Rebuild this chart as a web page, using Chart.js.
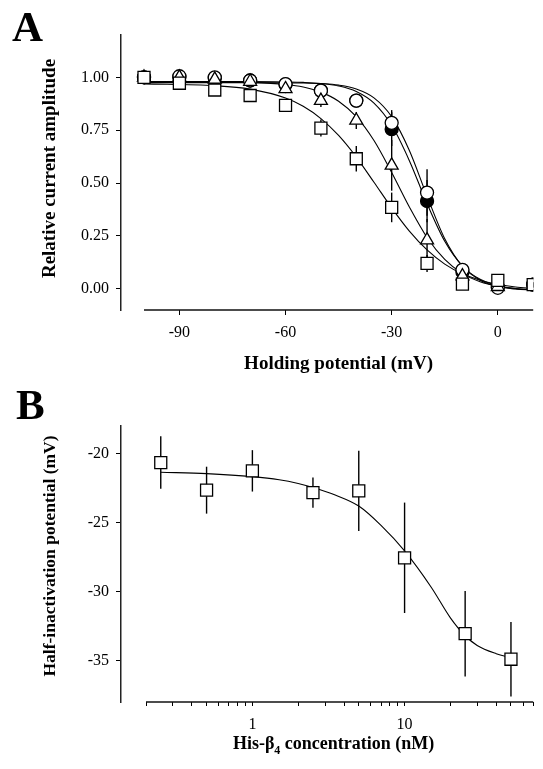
<!DOCTYPE html>
<html><head><meta charset="utf-8">
<script src="https://cdn.jsdelivr.net/npm/chart.js@4.4.1/dist/chart.umd.min.js"></script>
<style>
html,body{margin:0;padding:0;background:#fff;}
#wrap{position:relative;width:543px;height:769px;overflow:hidden;background:#fff;}
.panel{position:absolute;left:0;width:543px;}
#boxA{top:0;height:385px;}
#boxB{top:385px;height:384px;}
.letter{position:absolute;font-family:'Liberation Serif','Times New Roman',serif;font-weight:bold;font-size:43px;line-height:43px;color:#000;}
</style></head><body>
<div id="wrap">
<div class="panel" id="boxA"><canvas id="chartA" width="543" height="385"></canvas></div>
<div class="panel" id="boxB"><canvas id="chartB" width="543" height="384"></canvas></div>
<div class="letter" style="left:12px;top:5px">A</div>
<div class="letter" style="left:16px;top:383px">B</div>
</div>
<script>
// ---------- Panel A data ----------
const holdingPotential = [-100, -90, -80, -70, -60, -50, -40, -30, -20, -10, 0, 10];
const ampFilledCircle = [1.00, 1.00, 0.995, 0.985, 0.966, 0.937, 0.89, 0.755, 0.415, 0.08, 0.01, 0.02];
const errFilledCircle = [0, 0, 0.01, 0.01, 0.01, 0.02, 0.02, 0.08, 0.10, 0.03, 0.01, 0.01];
const ampOpenCircle   = [1.00, 1.005, 1.00, 0.985, 0.968, 0.937, 0.89, 0.785, 0.455, 0.09, 0.005, 0.02];
const errOpenCircle   = [0, 0.01, 0.01, 0.01, 0.01, 0.02, 0.02, 0.06, 0.11, 0.03, 0.01, 0.01];
const ampTriangle     = [1.00, 1.00, 0.99, 0.98, 0.945, 0.89, 0.796, 0.584, 0.23, 0.06, 0.01, 0.015];
const errTriangle     = [0, 0.01, 0.01, 0.01, 0.02, 0.03, 0.04, 0.12, 0.10, 0.03, 0.01, 0.01];
const ampSquare       = [1.00, 0.972, 0.94, 0.914, 0.867, 0.76, 0.615, 0.385, 0.12, 0.022, 0.04, 0.02];
const errSquare       = [0.01, 0.01, 0.02, 0.02, 0.02, 0.04, 0.06, 0.07, 0.04, 0.02, 0.01, 0.01];

const fitPotential    = [-100, -80, -70, -60, -55, -50, -45, -40, -35, -30, -25, -20, -15, -10, -5, 0, 5, 10];
const fitOpenCircle   = [0.975, 0.975, 0.975, 0.974, 0.973, 0.970, 0.963, 0.945, 0.903, 0.814, 0.654, 0.438, 0.237, 0.107, 0.041, 0.011, -0.001, -0.006];
const fitFilledCircle = [0.98, 0.98, 0.98, 0.978, 0.976, 0.971, 0.959, 0.933, 0.878, 0.773, 0.606, 0.403, 0.225, 0.108, 0.045, 0.015, 0.001, -0.005];
const fitTriangle     = [0.98, 0.979, 0.976, 0.966, 0.954, 0.930, 0.887, 0.814, 0.701, 0.550, 0.387, 0.243, 0.139, 0.072, 0.034, 0.013, 0.002, -0.004];
const fitSquare       = [0.969, 0.960, 0.944, 0.902, 0.863, 0.805, 0.725, 0.623, 0.504, 0.383, 0.273, 0.184, 0.117, 0.071, 0.041, 0.022, 0.009, 0.002];

const xTicksA = [-90, -60, -30, 0];
const yTicksA = [0, 0.25, 0.5, 0.75, 1.0];

// ---------- Panel B data ----------
const concentration   = [0.25, 0.5, 1, 2.5, 5, 10, 25, 50];
const halfInactivation = [-20.65, -22.65, -21.25, -22.83, -22.7, -27.55, -33.05, -34.9];
const errHalfInactivation = [1.9, 1.7, 1.5, 1.1, 2.9, 4.0, 3.1, 2.7];

const fitConcentration = [0.25, 0.5, 1, 1.5, 2, 2.5, 3.5, 5, 7, 10, 15, 20, 25, 30, 40, 50];
const fitHalfInactivation = [-21.35, -21.45, -21.67, -21.9, -22.17, -22.45, -23.0, -23.8, -25.2, -27.05, -29.7, -31.9, -33.2, -33.9, -34.5, -34.8];

const xTicksB = [0.2, 0.3, 0.4, 0.5, 0.6, 0.7, 0.8, 0.9, 1, 2, 3, 4, 5, 6, 7, 8, 9, 10, 20, 30, 40, 50, 60, 70];
const xLabelsB = [1, 10];
const yTicksB = [-35, -30, -25, -20];

// ---------- helpers ----------
function pts(xs, ys) { return xs.map((x, i) => ({ x: x, y: ys[i] })); }
const SERIF = "'Liberation Serif','Times New Roman',serif";

const paperAxes = {
  id: 'paperAxes',
  beforeDatasetsDraw(chart) {
    const ctx = chart.ctx, xs = chart.scales.x, ys = chart.scales.y;
    ctx.save();
    ctx.strokeStyle = '#000';
    ctx.lineWidth = 1.4;
    chart.data.datasets.forEach(ds => {
      if (!ds.errors) return;
      ds.data.forEach((p, i) => {
        const e = ds.errors[i];
        if (!e) return;
        const px = xs.getPixelForValue(p.x);
        ctx.beginPath();
        ctx.moveTo(px, ys.getPixelForValue(p.y + e));
        ctx.lineTo(px, ys.getPixelForValue(p.y - e));
        ctx.stroke();
      });
    });
    ctx.restore();
  },
  afterDraw(chart, args, o) {
    const ctx = chart.ctx, xs = chart.scales.x, ca = chart.chartArea;
    ctx.save();
    const x0 = xs.getPixelForValue(o.xFrom), x1 = xs.getPixelForValue(o.xTo);
    ctx.strokeStyle = '#111';
    ctx.lineWidth = 1.5;
    ctx.beginPath();
    ctx.moveTo(x0, ca.bottom);
    ctx.lineTo(x1, ca.bottom);
    ctx.stroke();
    // x title (rich text with optional subscript)
    ctx.fillStyle = '#000';
    ctx.textBaseline = 'alphabetic';
    ctx.textAlign = 'left';
    const main = 'bold ' + o.titleSize + 'px ' + SERIF, sub = 'bold ' + Math.round(o.titleSize * 0.65) + 'px ' + SERIF;
    let w = 0;
    o.xTitle.forEach(p => { ctx.font = p.sub ? sub : main; w += ctx.measureText(p.t).width; });
    let cx = (x0 + x1) / 2 + (o.xTitleShift || 0) - w / 2;
    const by = ca.bottom + o.xTitleOffset;
    o.xTitle.forEach(p => {
      ctx.font = p.sub ? sub : main;
      ctx.fillText(p.t, cx, by + (p.sub ? 5 : 0));
      cx += ctx.measureText(p.t).width;
    });
    // y title
    ctx.font = 'bold ' + (o.yTitleSize || o.titleSize) + 'px ' + SERIF;
    ctx.textAlign = 'center';
    ctx.textBaseline = 'middle';
    ctx.translate(o.yTitleX, (ca.top + ca.bottom) / 2 + o.yTitleShift);
    ctx.rotate(-Math.PI / 2);
    ctx.fillText(o.yTitle, 0, 0);
    ctx.restore();
  }
};

function markerSet(data, errs, style, radius, fill) {
  return { data: data, errors: errs, pointStyle: style, pointRadius: radius, pointHoverRadius: radius,
           borderColor: '#000', backgroundColor: fill, pointBorderWidth: 1.3, borderWidth: 1.3, showLine: false };
}
function curveSet(data) {
  return { data: data, showLine: true, pointRadius: 0, pointHoverRadius: 0, borderColor: '#000',
           borderWidth: 1.1, fill: false, cubicInterpolationMode: 'monotone' };
}
const tickFont = { family: SERIF, size: 16 };

// ---------- Chart A ----------
new Chart(document.getElementById('chartA'), {
  type: 'scatter',
  data: { datasets: [
    markerSet(pts(holdingPotential, ampSquare), errSquare, 'rect', 8.5, '#fff'),
    markerSet(pts(holdingPotential, ampTriangle), errTriangle, 'triangle', 7.5, '#fff'),
    markerSet(pts(holdingPotential, ampOpenCircle), errOpenCircle, 'circle', 6.5, '#fff'),
    markerSet(pts(holdingPotential, ampFilledCircle), errFilledCircle, 'circle', 6.5, '#000'),
    curveSet(pts(fitPotential, fitSquare)),
    curveSet(pts(fitPotential, fitTriangle)),
    curveSet(pts(fitPotential, fitOpenCircle)),
    curveSet(pts(fitPotential, fitFilledCircle))
  ]},
  options: {
    responsive: false, animation: false, events: [],
    layout: { padding: { left: 0, right: 6, top: 35, bottom: 0 } },
    plugins: { legend: { display: false }, tooltip: { enabled: false },
      paperAxes: { titleSize: 19, xFrom: -100, xTo: 10, xTitle: [{ t: 'Holding potential (mV)' }], xTitleOffset: 59,
                   yTitle: 'Relative current amplitude', yTitleX: 50, yTitleShift: -4 } },
    scales: {
      x: { type: 'linear', min: -106.5, max: 10,
           afterBuildTicks: s => { s.ticks = xTicksA.map(v => ({ value: v })); },
           afterFit: s => { s.height = 75; },
           grid: { display: true, drawOnChartArea: false, drawTicks: true, tickLength: 5, color: '#000', lineWidth: 1 },
           border: { display: false },
           ticks: { font: tickFont, color: '#000', padding: 8, maxRotation: 0, autoSkip: false, callback: v => String(v) } },
      y: { type: 'linear', min: -0.1, max: 1.2,
           afterBuildTicks: s => { s.ticks = yTicksA.map(v => ({ value: v })); },
           afterFit: s => { s.width = 121; },
           grid: { display: true, drawOnChartArea: false, drawTicks: true, tickLength: 5, color: '#000', lineWidth: 1 },
           border: { display: true, color: '#222', width: 1.5 },
           ticks: { font: tickFont, color: '#000', padding: 7, autoSkip: false, callback: v => Number(v).toFixed(2) } }
    }
  },
  plugins: [paperAxes]
});

// ---------- Chart B ----------
new Chart(document.getElementById('chartB'), {
  type: 'scatter',
  data: { datasets: [
    markerSet(pts(concentration, halfInactivation), errHalfInactivation, 'rect', 8.5, '#fff'),
    curveSet(pts(fitConcentration, fitHalfInactivation))
  ]},
  options: {
    responsive: false, animation: false, events: [],
    layout: { padding: { left: 0, right: 5, top: 41, bottom: 0 } },
    plugins: { legend: { display: false }, tooltip: { enabled: false },
      paperAxes: { titleSize: 18, yTitleSize: 17.5, xFrom: 0.2, xTo: 70,
                   xTitle: [{ t: 'His-β' }, { t: '4', sub: true }, { t: ' concentration (nM)' }], xTitleOffset: 47, xTitleShift: -6,
                   yTitle: 'Half-inactivation potential (mV)', yTitleX: 50, yTitleShift: -8 } },
    scales: {
      x: { type: 'logarithmic', min: 0.137, max: 70,
           afterBuildTicks: s => { s.ticks = xTicksB.map(v => ({ value: v })); },
           afterFit: s => { s.height = 67; },
           grid: { display: true, drawOnChartArea: false, drawTicks: true, tickLength: 4, color: '#000', lineWidth: 1 },
           border: { display: false },
           ticks: { font: tickFont, color: '#000', padding: 9, maxRotation: 0, autoSkip: false,
                    callback: v => (xLabelsB.indexOf(Number(v)) >= 0 ? String(v) : '') } },
      y: { type: 'linear', min: -38, max: -18,
           afterBuildTicks: s => { s.ticks = yTicksB.map(v => ({ value: v })); },
           afterFit: s => { s.width = 121; },
           grid: { display: true, drawOnChartArea: false, drawTicks: true, tickLength: 5, color: '#000', lineWidth: 1 },
           border: { display: true, color: '#222', width: 1.5 },
           ticks: { font: tickFont, color: '#000', padding: 7, autoSkip: false, callback: v => String(v) } }
    }
  },
  plugins: [paperAxes]
});
</script>
</body></html>
